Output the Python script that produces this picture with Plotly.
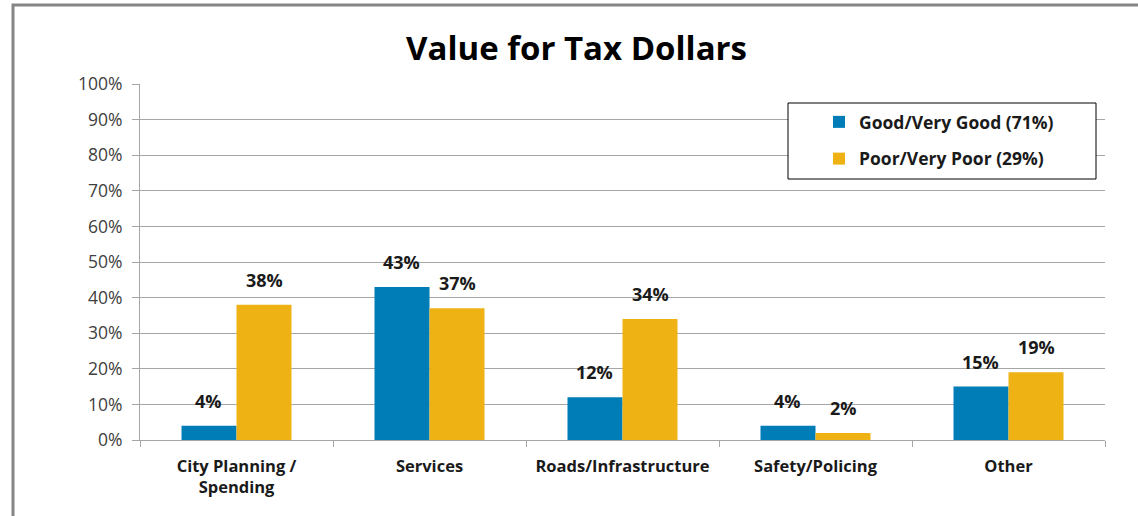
import plotly.graph_objects as go

categories = ["City Planning /<br>Spending", "Services", "Roads/Infrastructure", "Safety/Policing", "Other"]
good_values = [4, 43, 12, 4, 15]
poor_values = [38, 37, 34, 2, 19]
series_names = ["Good/Very Good (71%)", "Poor/Very Poor (29%)"]
y_ticks = list(range(0, 101, 10))
y_tick_labels = [f"{v}%" for v in y_ticks]

BLUE = "#007DB7"
GOLD = "#EEB215"
FONT = "'Open Sans', sans-serif"

W, H = 1138, 516
L, R, T, B = 140, 33, 84, 76
pw, ph = W - L - R, H - T - B
BARGAP = 0.43
BAR_PX = pw / len(categories) * (1 - BARGAP) / 2


def px_x(x):
    return (x - L) / pw


def px_y(y):
    return (H - B - y) / ph


fig = go.Figure()
series = [
    (series_names[0], good_values, BLUE, "g", -1),
    (series_names[1], poor_values, GOLD, "p", 1),
]
for name, vals, color, grp, side in series:
    fig.add_trace(go.Bar(
        x=categories, y=vals, name=name, legendgroup=grp,
        marker=dict(color=color, line=dict(width=0)),
    ))
    # value labels above each bar
    for cat, v in zip(categories, vals):
        fig.add_annotation(
            x=cat, y=v, text=f"{v}%", showarrow=False,
            xanchor="center", yanchor="bottom",
            xshift=side * BAR_PX / 2, yshift=11,
            font=dict(family=FONT, size=18, color="#1a1a1a", weight="bold"),
        )

fig.update_layout(
    width=W, height=H,
    margin=dict(l=L, r=R, t=T, b=B),
    paper_bgcolor="white", plot_bgcolor="white",
    barmode="group", bargap=BARGAP, bargroupgap=0,
    font=dict(family=FONT, color="#404040"),
    showlegend=True,
    legend=dict(
        x=px_x(819), y=px_y(104), xanchor="left", yanchor="top",
        bgcolor="rgba(0,0,0,0)", borderwidth=0,
        font=dict(family=FONT, size=17.5, color="#1a1a1a", weight="bold"),
        traceorder="grouped", tracegroupgap=11,
        itemwidth=30,
    ),
)

fig.update_yaxes(
    range=[0, 100], tickvals=y_ticks, ticktext=y_tick_labels,
    showgrid=True, gridcolor="#A6A6A6", gridwidth=1,
    showline=True, linecolor="#A6A6A6", linewidth=1,
    ticks="outside", ticklen=7, tickcolor="#A6A6A6", ticklabelstandoff=6,
    tickfont=dict(family=FONT, size=17.5, color="#404040"),
    zeroline=False, fixedrange=True,
)
fig.update_xaxes(
    showline=True, linecolor="#A6A6A6", linewidth=1,
    ticks="outside", ticklen=6, tickcolor="#A6A6A6", tickson="boundaries",
    ticklabelstandoff=11,
    tickfont=dict(family=FONT, size=16.5, color="#1a1a1a", weight="bold"),
    fixedrange=True,
)

# outer chart frame
fig.add_shape(type="rect", xref="paper", yref="paper",
              x0=px_x(13), x1=px_x(1200), y0=px_y(560), y1=px_y(5),
              line=dict(color="#868686", width=3), layer="below")
# legend frame
fig.add_shape(type="rect", xref="paper", yref="paper",
              x0=px_x(788), x1=px_x(1096), y0=px_y(179), y1=px_y(103),
              line=dict(color="#000000", width=1), fillcolor="white", layer="above")

fig.add_annotation(
    text="Value for Tax Dollars", xref="paper", yref="paper",
    x=px_x(576), y=px_y(48), xanchor="center", yanchor="middle",
    showarrow=False,
    font=dict(family=FONT, size=33, color="#000000", weight="bold"),
)

fig.write_html("out.html")
